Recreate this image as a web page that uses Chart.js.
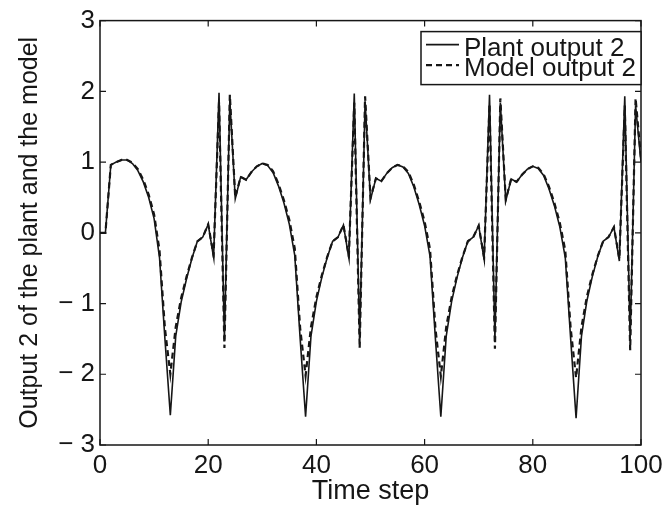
<!DOCTYPE html>
<html lang="en">
<head>
    <meta charset="UTF-8">
    <title>Output 2 of the plant and the model</title>
    <style>
        body {
            margin: 0;
            background-color: white;
        }
        canvas {
            display: block;
        }
    </style>
</head>
<body>
    <canvas id="outputChart" width="669" height="512"></canvas>

    <script src="https://cdn.jsdelivr.net/npm/chart.js"></script>
    <script>
        // Time steps 0..100 (one sample per step)
        const timeSteps = Array.from({ length: 101 }, (_, i) => i);

        // Values
        const plantOutput = [
            0, 0, 0.96, 1.0, 1.03, 1.03, 0.98, 0.88, 0.72, 0.5,
            0.2, -0.35, -1.5, -2.58, -1.46, -0.98, -0.65, -0.36, -0.12, -0.06,
            0.12, -0.35, 1.98, -1.5, 1.88, 0.48, 0.79, 0.75, 0.86, 0.94,
            0.98, 0.95, 0.85, 0.66, 0.42, 0.12, -0.32, -1.5, -2.6, -1.46,
            -0.97, -0.63, -0.35, -0.12, -0.06, 0.11, -0.36, 1.97, -1.5, 1.86,
            0.47, 0.77, 0.73, 0.84, 0.92, 0.96, 0.93, 0.84, 0.65, 0.4,
            0.1, -0.33, -1.5, -2.6, -1.46, -0.97, -0.63, -0.35, -0.12, -0.06,
            0.1, -0.38, 1.95, -1.5, 1.84, 0.45, 0.76, 0.72, 0.82, 0.9,
            0.94, 0.91, 0.81, 0.62, 0.38, 0.08, -0.35, -1.5, -2.62, -1.46,
            -0.96, -0.62, -0.34, -0.12, -0.06, 0.08, -0.4, 1.93, -1.5, 1.8,
            1.0
        ];
        const modelOutput = [
            0, 0, 0.96, 1.0, 1.03, 1.03, 0.99, 0.9, 0.75, 0.54,
            0.26, -0.25, -1.35, -2.0, -1.33, -0.92, -0.62, -0.35, -0.12, -0.06,
            0.12, -0.32, 1.85, -1.63, 1.95, 0.5, 0.79, 0.75, 0.86, 0.94,
            0.98, 0.96, 0.87, 0.69, 0.46, 0.18, -0.22, -1.35, -2.02, -1.33,
            -0.91, -0.6, -0.34, -0.12, -0.06, 0.11, -0.33, 1.84, -1.63, 1.93,
            0.49, 0.77, 0.73, 0.84, 0.92, 0.96, 0.94, 0.86, 0.68, 0.44,
            0.16, -0.23, -1.35, -2.03, -1.33, -0.91, -0.6, -0.34, -0.12, -0.06,
            0.1, -0.35, 1.82, -1.64, 1.9, 0.47, 0.76, 0.72, 0.82, 0.9,
            0.94, 0.92, 0.83, 0.65, 0.42, 0.14, -0.25, -1.35, -2.05, -1.33,
            -0.9, -0.59, -0.33, -0.12, -0.06, 0.08, -0.37, 1.8, -1.66, 1.9,
            1.05
        ];

        const seriesLabels = ['Plant output 2', 'Model output 2'];
        const xTickValues = [0, 20, 40, 60, 80, 100];
        const yTickValues = [-3, -2, -1, 0, 1, 2, 3];

        const ink = '#161616';
        const fontFamily = '"Liberation Sans", Arial, Helvetica, sans-serif';

        // MATLAB style box around the axes with inward ticks on every side
        const axesBox = {
            id: 'axesBox',
            afterDatasetsDraw(chart) {
                const { ctx, chartArea: a, scales } = chart;
                ctx.save();
                ctx.strokeStyle = ink;
                ctx.lineWidth = 1.5;
                ctx.strokeRect(a.left, a.top, a.right - a.left, a.bottom - a.top);
                ctx.beginPath();
                xTickValues.forEach(v => {
                    const px = scales.x.getPixelForValue(v);
                    ctx.moveTo(px, a.bottom); ctx.lineTo(px, a.bottom - 6);
                    ctx.moveTo(px, a.top); ctx.lineTo(px, a.top + 6);
                });
                yTickValues.forEach(v => {
                    const py = scales.y.getPixelForValue(v);
                    ctx.moveTo(a.left, py); ctx.lineTo(a.left + 6, py);
                    ctx.moveTo(a.right, py); ctx.lineTo(a.right - 6, py);
                });
                ctx.lineWidth = 1.2;
                ctx.stroke();
                ctx.restore();
            }
        };

        // Boxed legend in the top right corner of the axes
        const boxedLegend = {
            id: 'boxedLegend',
            afterDraw(chart) {
                const { ctx, chartArea: a } = chart;
                const w = 220, h = 53;
                const left = a.right - w, top = a.top + 11;
                ctx.save();
                ctx.fillStyle = 'white';
                ctx.fillRect(left, top, w, h);
                ctx.strokeStyle = ink;
                ctx.lineWidth = 1.5;
                ctx.strokeRect(left, top, w, h);
                ctx.font = '26px ' + fontFamily;
                ctx.textBaseline = 'alphabetic';
                ctx.fillStyle = ink;
                chart.data.datasets.forEach((ds, i) => {
                    const base = top + 24 + i * 20.5;
                    ctx.beginPath();
                    ctx.setLineDash(ds.borderDash || []);
                    ctx.lineWidth = ds.borderWidth;
                    ctx.moveTo(left + 5, base - 11);
                    ctx.lineTo(left + 38, base - 11);
                    ctx.stroke();
                    ctx.setLineDash([]);
                    ctx.fillText(ds.label, left + 43, base);
                });
                ctx.restore();
            }
        };

        const ctx = document.getElementById('outputChart').getContext('2d');
        const outputChart = new Chart(ctx, {
            type: 'line',
            data: {
                datasets: [
                    {
                        label: seriesLabels[0],
                        data: timeSteps.map((t, i) => ({ x: t, y: plantOutput[i] })),
                        borderColor: ink,
                        borderWidth: 1.6,
                        pointRadius: 0,
                        tension: 0
                    },
                    {
                        label: seriesLabels[1],
                        data: timeSteps.map((t, i) => ({ x: t, y: modelOutput[i] })),
                        borderColor: ink,
                        borderWidth: 2.2,
                        borderDash: [6, 4],
                        pointRadius: 0,
                        tension: 0
                    }
                ]
            },
            options: {
                responsive: false,
                animation: false,
                layout: {
                    padding: { top: 18, right: 28, left: 0, bottom: 0 }
                },
                plugins: {
                    legend: { display: false },
                    tooltip: { enabled: false }
                },
                scales: {
                    x: {
                        type: 'linear',
                        min: 0,
                        max: 100,
                        afterBuildTicks: scale => { scale.ticks = xTickValues.map(v => ({ value: v })); },
                        afterFit: scale => { scale.height = 67; },
                        grid: { display: false, drawTicks: false },
                        border: { display: false },
                        ticks: {
                            color: ink,
                            padding: 5,
                            maxRotation: 0,
                            font: { family: fontFamily, size: 26 }
                        },
                        title: {
                            display: true,
                            text: 'Time step',
                            color: ink,
                            padding: { top: 0, bottom: 4 },
                            font: { family: fontFamily, size: 27 }
                        }
                    },
                    y: {
                        min: -3,
                        max: 3,
                        afterBuildTicks: scale => { scale.ticks = yTickValues.map(v => ({ value: v })); },
                        afterFit: scale => { scale.width = 100; },
                        grid: { display: false, drawTicks: false },
                        border: { display: false },
                        ticks: {
                            color: ink,
                            padding: 5,
                            font: { family: fontFamily, size: 26 },
                            callback: v => (v < 0 ? '\u2212 ' + Math.abs(v) : String(v))
                        },
                        title: {
                            display: true,
                            text: 'Output 2 of the plant and the model',
                            color: ink,
                            padding: { top: 15, bottom: 0 },
                            font: { family: fontFamily, size: 25 }
                        }
                    }
                }
            },
            plugins: [axesBox, boxedLegend]
        });
    </script>
</body>
</html>
